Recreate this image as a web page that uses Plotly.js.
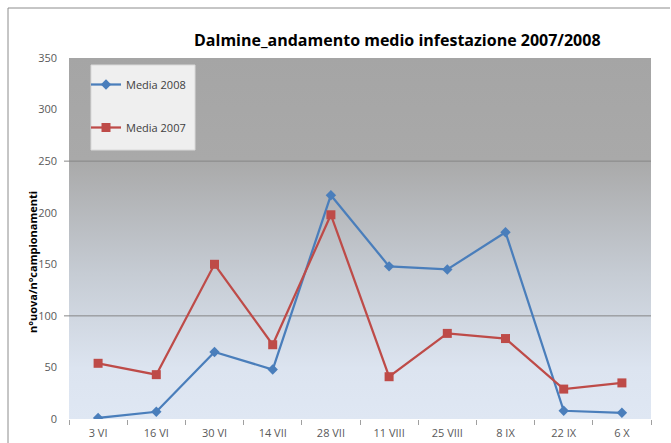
<!DOCTYPE html>
<html><head><meta charset="utf-8">
<script src="https://cdn.plot.ly/plotly-3.0.1.min.js"></script>
<style>html,body{margin:0;padding:0;background:#fff;}#chart{width:671px;height:443px;}</style>
</head><body><div id="chart"></div>
<script>
const categories = ["3 VI","16 VI","30 VI","14 VII","28 VII","11 VIII","25 VIII","8 IX","22 IX","6 X"];
const media2008 = [1, 7, 65, 48, 217, 148, 145, 181, 8, 6];
const media2007 = [54, 43, 150, 72, 198, 41, 83, 78, 29, 35];
const yTicks = [0, 50, 100, 150, 200, 250, 300, 350];
const gridValues = [100, 250];

const W = 671, H = 443;
const M = {l: 69, r: 20, t: 58, b: 24};
const pw = W - M.l - M.r, ph = H - M.t - M.b;
const px = x => (x - M.l) / pw;
const py = y => 1 - (y - M.t) / ph;

const svg = '<svg xmlns="http://www.w3.org/2000/svg" width="100" height="100" preserveAspectRatio="none">' +
  '<defs><linearGradient id="g" x1="0" y1="0" x2="0" y2="1">' +
  '<stop offset="0" stop-color="#a5a5a5"/><stop offset="0.28" stop-color="#a9a9a9"/>' +
  '<stop offset="0.6" stop-color="#c6ccd4"/><stop offset="0.86" stop-color="#dce4f0"/>' +
  '<stop offset="1" stop-color="#dfe7f3"/></linearGradient></defs>' +
  '<rect width="100" height="100" fill="url(#g)"/></svg>';
const bg = 'data:image/svg+xml;base64,' + btoa(svg);

const shapes = gridValues.map(v => ({
  type: 'line', xref: 'paper', yref: 'y', x0: -5/pw, x1: 1, y0: v, y1: v,
  line: {color: '#868686', width: 1}, layer: 'below'
}));
// legend box
shapes.push({type: 'rect', xref: 'paper', yref: 'paper', x0: px(91), x1: px(195), y0: py(65), y1: py(150),
  fillcolor: '#efefef', line: {color: '#d9d9d9', width: 1}, layer: 'below'});
// outer chart border (top & left)
shapes.push({type: 'line', xref: 'paper', yref: 'paper', x0: px(8), x1: px(670),
  y0: py(8), y1: py(8), line: {color: '#8c8c8c', width: 1}});
shapes.push({type: 'line', xref: 'paper', yref: 'paper', x0: px(8), x1: px(8),
  y0: py(8), y1: -0.2, line: {color: '#8c8c8c', width: 1}});

const traces = [
  {x: categories, y: media2008, name: 'Media 2008', type: 'scatter', mode: 'lines+markers',
   legendgroup: 'a',
   line: {color: '#4a7ebb', width: 2.25}, marker: {symbol: 'diamond', size: 8, color: '#4a7ebb'}},
  {x: categories, y: media2007, name: 'Media 2007', type: 'scatter', mode: 'lines+markers',
   legendgroup: 'b',
   line: {color: '#be4b48', width: 2.25}, marker: {symbol: 'square', size: 9, color: '#be4b48'}}
];

const layout = {
  width: W, height: H,
  margin: M,
  paper_bgcolor: '#ffffff',
  plot_bgcolor: 'rgba(0,0,0,0)',
  font: {family: 'Open Sans, Liberation Sans, sans-serif', color: '#404040', size: 11},
  showlegend: true,
  legend: {x: px(86), y: py(70), xanchor: 'left', yanchor: 'top',
    bgcolor: 'rgba(0,0,0,0)', borderwidth: 0,
    font: {size: 11, color: '#404040'}, tracegroupgap: 24, itemwidth: 30},
  xaxis: {type: 'category', range: [-0.5, 9.5], showgrid: false, zeroline: false,
    showline: false, ticks: 'outside', ticklen: 5, tickcolor: '#a0a0a0',
    tickson: 'boundaries', tickfont: {size: 11, color: '#595959'}, ticklabelstandoff: 6},
  yaxis: {range: [0, 350], tickvals: yTicks, showgrid: false, zeroline: false,
    showline: false, ticks: '', tickfont: {size: 11, color: '#595959'}, ticklabelstandoff: 11},
  images: [{source: bg, xref: 'paper', yref: 'paper', x: 0, y: 1, sizex: 1, sizey: 1,
    sizing: 'stretch', layer: 'below', xanchor: 'left', yanchor: 'top'}],
  shapes: shapes,
  annotations: [
    {text: '<b>Dalmine_andamento medio infestazione 2007/2008</b>', xref: 'paper', yref: 'paper',
     x: px(397), y: py(40), xanchor: 'center', yanchor: 'middle', showarrow: false,
     font: {size: 16, color: '#000000'}},
    {text: '<b>n°uova/n°campionamenti</b>', xref: 'paper', yref: 'paper', textangle: -90,
     x: px(32), y: py(262), xanchor: 'center', yanchor: 'middle', showarrow: false,
     font: {size: 11, color: '#000000'}}
  ]
};

Plotly.newPlot('chart', traces, layout, {staticPlot: true});
</script></body></html>
